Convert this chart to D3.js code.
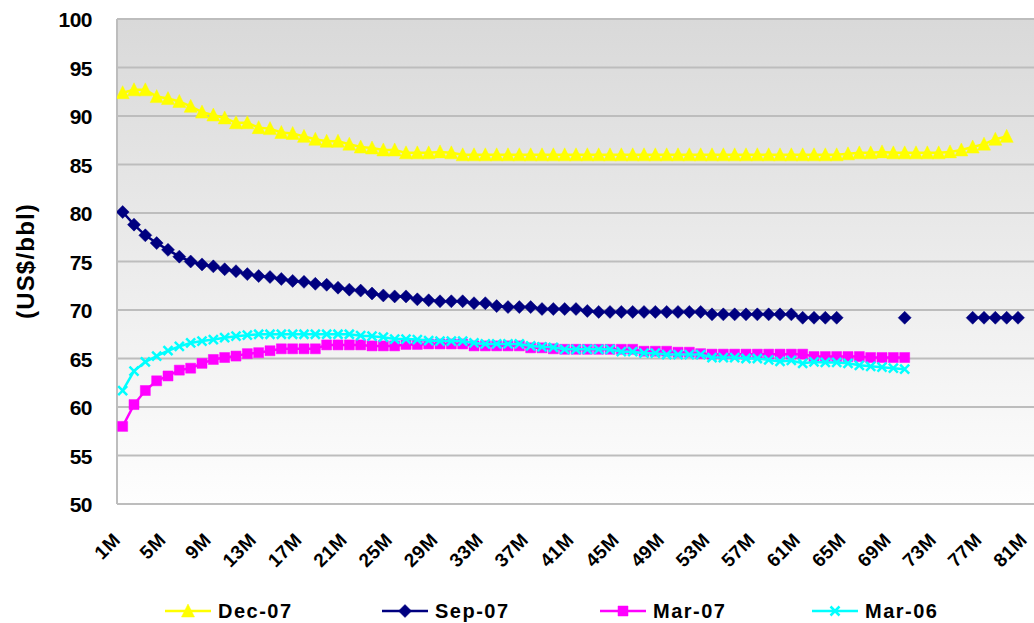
<!DOCTYPE html>
<html>
<head>
<meta charset="utf-8">
<script src="https://cdn.jsdelivr.net/npm/d3@7"></script>
<style>
  html, body { margin: 0; padding: 0; background: #ffffff; }
  svg { display: block; font-family: "Liberation Sans", Arial, sans-serif; }
</style>
</head>
<body>
<svg id="chart" width="1034" height="623"></svg>
<script>
// Forward curve tenors: 1M .. 81M
const months = d3.range(1, 82).map(m => m + "M");

// Every fourth tenor is labelled on the x axis
const xTickLabels = ["1M","5M","9M","13M","17M","21M","25M","29M","33M","37M","41M",
  "45M","49M","53M","57M","61M","65M","69M","73M","77M","81M"];

const yTicks = [50, 55, 60, 65, 70, 75, 80, 85, 90, 95, 100];

// Curve values in US$/bbl, one entry per tenor (null = no quote)
const dec07 = [92.4, 92.7, 92.7, 92.0, 91.8, 91.5, 91.0, 90.4, 90.1, 89.8,
  89.3, 89.3, 88.8, 88.7, 88.3, 88.2, 87.9, 87.6, 87.4, 87.4,
  87.1, 86.8, 86.7, 86.5, 86.5, 86.2, 86.2, 86.2, 86.3, 86.2,
  86.0, 86.0, 86.0, 86.0, 86.0, 86.0, 86.0, 86.0, 86.0, 86.0,
  86.0, 86.0, 86.0, 86.0, 86.0, 86.0, 86.0, 86.0, 86.0, 86.0,
  86.0, 86.0, 86.0, 86.0, 86.0, 86.0, 86.0, 86.0, 86.0, 86.0,
  86.0, 86.0, 86.0, 86.0, 86.1, 86.2, 86.2, 86.3, 86.2, 86.2,
  86.2, 86.2, 86.2, 86.3, 86.5, 86.8, 87.1, 87.6, 87.9, null, null];

const sep07 = [80.1, 78.8, 77.7, 76.9, 76.2, 75.5, 75.0, 74.7, 74.5, 74.2,
  74.0, 73.7, 73.5, 73.4, 73.2, 73.0, 72.9, 72.7, 72.6, 72.3,
  72.1, 72.0, 71.7, 71.5, 71.4, 71.4, 71.1, 71.0, 70.9, 70.9,
  70.9, 70.7, 70.7, 70.4, 70.3, 70.3, 70.3, 70.1, 70.1, 70.1,
  70.1, 69.9, 69.8, 69.8, 69.8, 69.8, 69.8, 69.8, 69.8, 69.8,
  69.8, 69.8, 69.55, 69.55, 69.55, 69.55, 69.55, 69.55, 69.55, 69.55,
  69.2, 69.2, 69.2, 69.2, null, null, null, null, null, 69.2,
  null, null, null, null, null, 69.2, 69.2, 69.2, 69.2, 69.2, null];

const mar07 = [58.0, 60.25, 61.7, 62.7, 63.2, 63.8, 64.0, 64.5, 64.9, 65.1,
  65.25, 65.5, 65.6, 65.8, 66.0, 66.0, 66.0, 66.0, 66.4, 66.4,
  66.4, 66.4, 66.3, 66.3, 66.3, 66.45, 66.45, 66.5, 66.5, 66.5,
  66.5, 66.3, 66.3, 66.3, 66.3, 66.3, 66.1, 66.1, 66.0, 65.95,
  65.95, 65.95, 65.95, 65.95, 65.95, 65.95, 65.75, 65.75, 65.75, 65.65,
  65.65, 65.5, 65.45, 65.45, 65.45, 65.45, 65.45, 65.45, 65.45, 65.45,
  65.45, 65.2, 65.2, 65.2, 65.2, 65.2, 65.1, 65.1, 65.1, 65.1,
  null, null, null, null, null, null, null, null, null, null, null];

const mar06 = [61.7, 63.7, 64.65, 65.25, 65.8, 66.25, 66.6, 66.8, 66.95, 67.15,
  67.3, 67.4, 67.5, 67.5, 67.5, 67.5, 67.5, 67.5, 67.5, 67.5,
  67.5, 67.35, 67.3, 67.2, 67.0, 67.0, 66.95, 66.85, 66.8, 66.8,
  66.8, 66.6, 66.5, 66.5, 66.5, 66.5, 66.3, 66.2, 66.15, 65.95,
  65.95, 65.95, 65.95, 65.95, 65.7, 65.7, 65.55, 65.55, 65.4, 65.4,
  65.4, 65.4, 65.1, 65.1, 65.1, 65.0, 65.0, 64.85, 64.7, 64.8,
  64.5, 64.65, 64.6, 64.6, 64.5, 64.3, 64.2, 64.1, 64.0, 63.9,
  null, null, null, null, null, null, null, null, null, null, null];

const seriesNames = ["Dec-07", "Sep-07", "Mar-07", "Mar-06"];
const seriesColors = ["#FFFF00", "#000080", "#FF00FF", "#00FFFF"];
const seriesMarkers = ["triangle", "diamond", "square", "cross"];
const seriesValues = [dec07, sep07, mar07, mar06];

const svg = d3.select("#chart");
const plot = { left: 117, right: 1035, top: 19, bottom: 504 };

const x = d3.scalePoint().domain(months).range([plot.left, plot.right]).padding(0.5);
const y = d3.scaleLinear().domain([50, 100]).range([plot.bottom, plot.top]);

// Plot area background: grey at the top fading to white at the bottom
const defs = svg.append("defs");
const grad = defs.append("linearGradient").attr("id", "bg")
  .attr("x1", 0).attr("y1", 0).attr("x2", 0).attr("y2", 1);
grad.append("stop").attr("offset", "0%").attr("stop-color", "#d9d9d9");
grad.append("stop").attr("offset", "100%").attr("stop-color", "#fefefe");

defs.append("clipPath").attr("id", "plotClip").append("rect")
  .attr("x", plot.left).attr("y", plot.top - 10)
  .attr("width", plot.right - plot.left).attr("height", plot.bottom - plot.top + 20);

svg.append("rect")
  .attr("x", plot.left).attr("y", plot.top)
  .attr("width", plot.right - plot.left).attr("height", plot.bottom - plot.top)
  .attr("fill", "url(#bg)");

// Horizontal gridlines
svg.append("g").selectAll("line").data(yTicks).join("line")
  .attr("x1", plot.left).attr("x2", plot.right)
  .attr("y1", d => y(d)).attr("y2", d => y(d))
  .attr("stroke", "#bdbdbd").attr("stroke-width", 2);

// Left axis line
svg.append("line")
  .attr("x1", plot.left).attr("x2", plot.left)
  .attr("y1", plot.top).attr("y2", plot.bottom)
  .attr("stroke", "#bdbdbd").attr("stroke-width", 2);

// Y axis labels
const yAxis = d3.axisLeft(y).tickValues(yTicks).tickSize(0).tickPadding(0);
const gy = svg.append("g").attr("transform", "translate(92,0)").call(yAxis);
gy.select(".domain").remove();
gy.selectAll("text")
  .attr("font-family", "'Liberation Sans', Arial, sans-serif")
  .attr("font-size", 21).attr("font-weight", "bold").attr("fill", "#000")
  .attr("letter-spacing", -0.5)
  .attr("dy", "0.36em").attr("x", 0);

// X axis labels, rotated
const xAxis = d3.axisBottom(x).tickValues(xTickLabels).tickSize(0).tickPadding(0);
const gx = svg.append("g").call(xAxis);
gx.select(".domain").remove();
gx.selectAll(".tick").attr("transform", d => `translate(${x(d) - 1},541)`);
gx.selectAll("text")
  .attr("font-family", "'Liberation Sans', Arial, sans-serif")
  .attr("font-size", 19).attr("font-weight", "bold").attr("fill", "#000")
  .attr("letter-spacing", 0.5)
  .attr("text-anchor", "end").attr("x", 0).attr("y", 0).attr("dy", 0)
  .attr("transform", "rotate(-45)");

// Axis title
svg.append("text")
  .attr("transform", "translate(34,261) rotate(-90)")
  .attr("text-anchor", "middle")
  .attr("font-size", 24).attr("font-weight", "bold").attr("fill", "#000")
  .attr("letter-spacing", 1.2)
  .text("(US$/bbl)");

// Marker shapes
function markerPath(kind) {
  switch (kind) {
    case "triangle": return "M0,-7L6.5,6L-6.5,6Z";
    case "diamond": return "M0,-6.5L6.5,0L0,6.5L-6.5,0Z";
    case "square": return "M-5,-5H5V5H-5Z";
    case "cross": return "M-4.5,-4.5L4.5,4.5M-4.5,4.5L4.5,-4.5";
  }
}

function drawMarker(sel, kind, color) {
  sel.append("path")
    .attr("d", markerPath(kind))
    .attr("fill", kind === "cross" ? "none" : color)
    .attr("stroke", color)
    .attr("stroke-width", kind === "cross" ? 2.5 : 0.5);
}

const lineGen = d3.line()
  .defined(d => d.v !== null)
  .x(d => x(d.m))
  .y(d => y(d.v));

const plotG = svg.append("g").attr("clip-path", "url(#plotClip)");

seriesValues.forEach((vals, i) => {
  const pts = months.map((m, j) => ({ m, v: vals[j] }));
  const g = plotG.append("g");
  g.append("path")
    .attr("d", lineGen(pts))
    .attr("fill", "none")
    .attr("stroke", seriesColors[i])
    .attr("stroke-width", 2.5);
  g.selectAll("g.mk").data(pts.filter(d => d.v !== null)).join("g")
    .attr("class", "mk")
    .attr("transform", d => `translate(${x(d.m)},${y(d.v)})`)
    .each(function () { drawMarker(d3.select(this), seriesMarkers[i], seriesColors[i]); });
});

// Legend
const legendX = [165, 382, 600, 812];
const legend = svg.append("g");
seriesNames.forEach((name, i) => {
  const lg = legend.append("g").attr("transform", `translate(${legendX[i]},611)`);
  lg.append("line").attr("x1", 0).attr("x2", 46).attr("y1", 0).attr("y2", 0)
    .attr("stroke", seriesColors[i]).attr("stroke-width", 2.5);
  const mk = lg.append("g").attr("transform", "translate(23,0)");
  drawMarker(mk, seriesMarkers[i], seriesColors[i]);
  lg.append("text").attr("x", 53).attr("y", 0).attr("dy", "0.36em")
    .attr("font-size", 20).attr("font-weight", "bold").attr("fill", "#000")
    .attr("letter-spacing", 1.5)
    .text(name);
});
</script>
</body>
</html>
